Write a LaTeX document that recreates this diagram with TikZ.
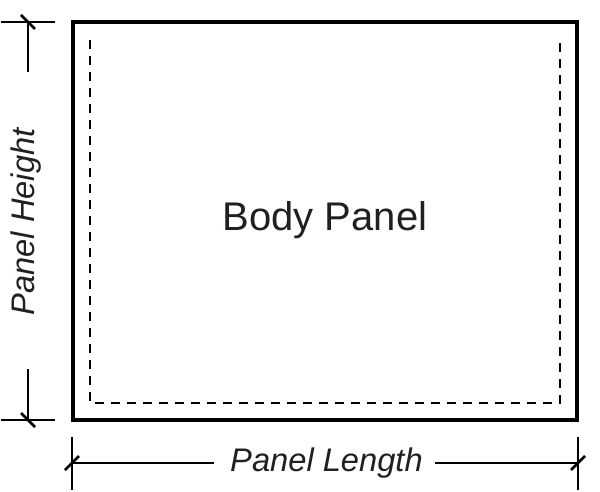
\documentclass[tikz,border=0pt]{standalone}
\usepackage{fontspec}
\setmainfont{Liberation Sans}
\definecolor{inkblack}{HTML}{231F20}
\tikzset{
	panelline/.style={line width=2.8pt},
	seamline/.style={line width=1.2pt, dash pattern=on 7pt off 5pt},
	dimline/.style={line width=1.6pt},
	slashline/.style={line width=2.1pt},
	dimlabel/.style={font=\fontsize{24.5}{28}\selectfont\itshape, inner sep=0pt, text=inkblack}
}
\begin{document}
\begin{tikzpicture}[x=0.75pt,y=-0.75pt]
	\useasboundingbox (0,0) rectangle (600,492);
	% Panel outline / Seam
	\draw [panelline] (73,22) rectangle (577,420);
	\draw [seamline] (90,40) |- (560,403) -- (560,40);
	\node (body) [font=\fontsize{30}{34}\selectfont, text=inkblack] at (325,220) {Body Panel};
	% Height dimension
	\node (height) [dimlabel, rotate=90] at (26.5,222) {Panel Height};
	\coordinate (htop) at (28,22);
	\coordinate (hbot) at (28,420);
	\draw [dimline] (htop) -- (28,72);
	\draw [dimline] (28,369) -- (hbot);
	\draw [dimline] (1,22) -- (55,22);
	\draw [dimline] (1,420) -- (55,420);
	\draw [slashline] (21,15) -- (35,29);
	\draw [slashline] (21,413) -- (35,427);
	% Length dimension
	\node (length) [dimlabel] at (326.5,463) {Panel Length};
	\coordinate (lleft) at (72,463);
	\coordinate (lright) at (578,463);
	\draw [dimline] (lleft) -- (214,463);
	\draw [dimline] (435,463) -- (lright);
	\draw [dimline] (72,437) -- (72,490);
	\draw [dimline] (578,437) -- (578,490);
	\draw [slashline] (65,470) -- (79,456);
	\draw [slashline] (571,470) -- (585,456);
\end{tikzpicture}
\end{document}
